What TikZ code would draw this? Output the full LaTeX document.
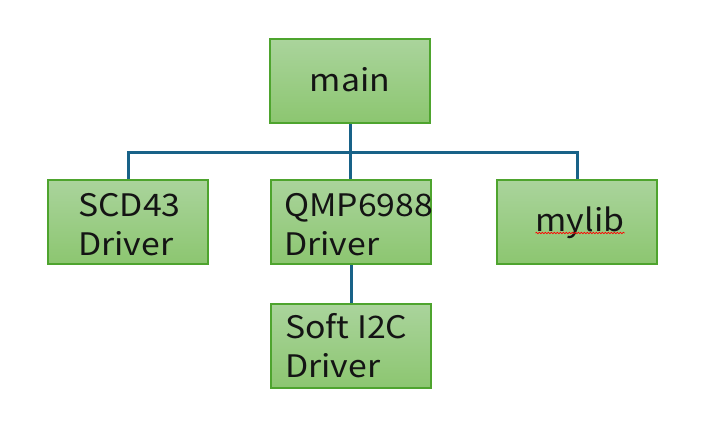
\documentclass[tikz,border=0pt]{standalone}
\usepackage{fontspec}
\setmainfont[FakeStretch=1.09]{Noto Sans CJK JP}
\usetikzlibrary{decorations.pathmorphing}
\definecolor{boxtop}{RGB}{170,212,156}
\definecolor{boxbot}{RGB}{140,198,112}
\definecolor{boxline}{RGB}{78,164,46}
\definecolor{connc}{RGB}{24,98,136}
\definecolor{txt}{RGB}{20,20,20}
\tikzset{
  gbox/.style={draw=boxline, line width=2pt, top color=boxtop, bottom color=boxbot,
    minimum width=160pt, minimum height=84pt, inner sep=0pt},
  conn/.style={draw=connc, line width=3pt},
  lbl/.style={inner sep=0pt, text=txt, font=\fontsize{31}{39}\selectfont},
}
\begin{document}
\begin{tikzpicture}[x=1pt,y=-1pt]
\useasboundingbox (0,0) rectangle (702,434);
\node[gbox] (main) at (350,81) {};
\node[gbox] (scd) at (128,222) {};
\node[gbox] (qmp) at (351,222) {};
\node[gbox] (mylib) at (577,222) {};
\node[gbox] (soft) at (351,346) {};
\coordinate (bus) at (0,152);
\draw[conn] (scd.north) |- (bus -| mylib.north) -- (mylib.north);
\draw[conn] (main.south) -- (main.south |- qmp.north);
\draw[conn] (qmp.south) -- (soft.north);
\node[lbl, anchor=base] (tmain) at (350,91) {main};
\node[lbl, anchor=base west] (tscd1) at (78,216) {SCD43};
\node[lbl, anchor=base west] (tscd2) at (78,255) {Driver};
\node[lbl, anchor=base west] (tqmp1) at (284,216) {QMP6988};
\node[lbl, anchor=base west] (tqmp2) at (284,255) {Driver};
\node[lbl, anchor=base] (tmylib) at (580,231) {mylib};
\node[lbl, anchor=base west] (tsoft1) at (285,338) {Soft I2C};
\node[lbl, anchor=base west] (tsoft2) at (285,377) {Driver};
\draw[red, line width=0.7pt, decorate, decoration={snake, amplitude=0.7pt, segment length=3pt}]
  (tmylib.base west) ++(0,2) -- ([yshift=-2pt]tmylib.base east);
\end{tikzpicture}
\end{document}
